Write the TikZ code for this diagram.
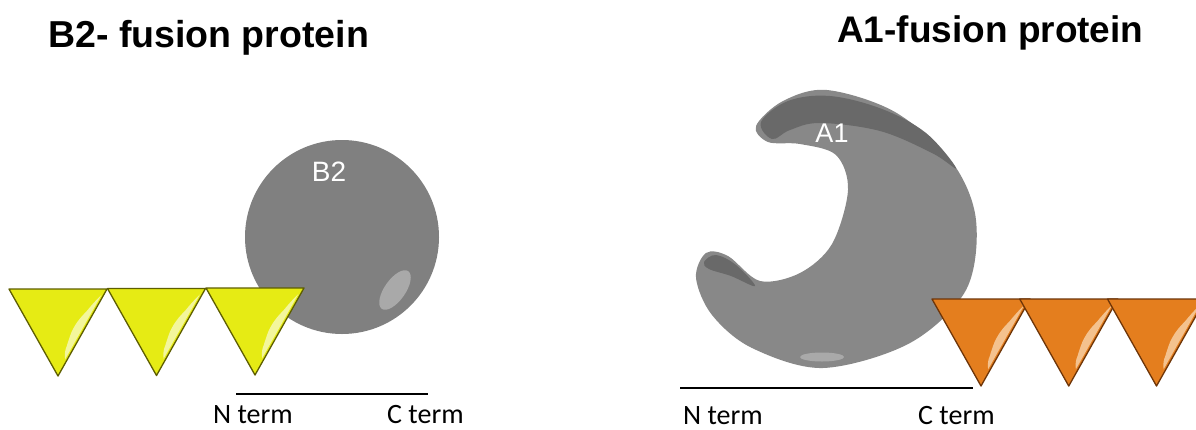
\documentclass[tikz,border=0pt]{standalone}
\usepackage{fontspec}
\setmainfont{Liberation Sans}
\newfontfamily\termfont{Carlito}
\definecolor{yfill}{HTML}{E6EB14}
\definecolor{ydraw}{HTML}{5E5E00}
\definecolor{ylight}{HTML}{F3F69C}
\definecolor{ofill}{HTML}{E47E1E}
\definecolor{odraw}{HTML}{6E3508}
\definecolor{olight}{HTML}{F4C28E}
\definecolor{bgray}{HTML}{808080}
\definecolor{agray}{HTML}{888888}
\definecolor{adark}{HTML}{696969}
\definecolor{shine}{HTML}{A9A9A9}
\tikzset{
  heading/.style={font=\bfseries\fontsize{37.5}{40}\selectfont, inner sep=0pt, anchor=base west},
  termlabel/.style={font=\termfont\fontsize{28}{30}\selectfont, inner sep=0pt, anchor=base west},
  domainlabel/.style={font=\fontsize{28}{30}\selectfont, text=white, inner sep=0pt},
  axisline/.style={line width=2.8pt, black},
  % one glossy triangular tag; args: fill, outline, highlight
  pics/tag/.style n args={3}{code={
    \fill[#1] (0,0) -- (98,0) -- (49,87) -- cycle;
    \fill[#3] (92.4,6) -- (56.1,70.3) .. controls (55.5,65) and (56,61) .. (57.6,57.5)
      .. controls (60,50) and (62,43) .. (64.8,38.6)
      .. controls (69,31) and (73,27) .. (77.2,22.7)
      .. controls (82,17) and (86,12) .. cycle;
    \draw[#2, line width=1.3pt, line join=round] (0,0) -- (98,0) -- (49,87) -- cycle;
  }}
}
\begin{document}
\begin{tikzpicture}[x=1pt,y=-1pt]
\useasboundingbox[fill=white] (0,0) rectangle (1196,429);

% ---- B2 fusion protein ----
\node[heading] (titleB) at (48,47) {B2- fusion protein};
\fill[bgray] (342,237) circle (97);
\fill[shine, rotate around={55:(395,290)}] (395,290) ellipse (23 and 10.5);
\node[domainlabel] (labB) at (329,172) {B2};
\pic at (9,289) {tag={yfill}{ydraw}{ylight}};
\pic at (107.5,288.5) {tag={yfill}{ydraw}{ylight}};
\pic at (206,288) {tag={yfill}{ydraw}{ylight}};
\coordinate (bN) at (236,394);
\coordinate (bC) at (428,394);
\draw[axisline] (bN) -- (bC);
\node[termlabel] (bNl) at (213,423) {N term};
\node[termlabel] (bCl) at (387,423) {C term};

% ---- A1 fusion protein ----
\node[heading, font=\bfseries\fontsize{37}{40}\selectfont] (titleA) at (837,42) {A1-fusion protein};
\fill[agray] plot[smooth cycle, tension=0.55] coordinates {
  (756,126) (783,101) (827,90) (895,112) (952,162) (976,220) (966,290)
  (910,343) (823,368) (752,348) (712,315) (696,278) (706,253) (728,256)
  (760,281) (800,273) (832,244) (848,190) (836,155) (800,144) (768,142)};
\fill[adark] plot[smooth cycle, tension=0.6] coordinates {
  (761,122) (788,101) (830,96) (882,109) (926,133) (956,168)
  (932,153) (880,131) (820,123) (790,130) (772,139)};
\fill[adark] plot[smooth cycle, tension=0.6] coordinates {
  (704,262) (716,255) (736,265) (755,286) (731,276) (709,269)};
\fill[shine] (822,357) ellipse (22 and 4.5);
\node[domainlabel, font=\fontsize{27}{30}\selectfont] (labA) at (832,133) {A1};
\begin{scope}[shift={(932,299)}, xscale=0.9, yscale=0.86]
  \pic at (0,0) {tag={ofill}{odraw}{olight}};
  \pic at (97.5,0) {tag={ofill}{odraw}{olight}};
  \pic at (195,0) {tag={ofill}{odraw}{olight}};
\end{scope}
\coordinate (aN) at (680,388);
\coordinate (aC) at (973,388);
\draw[axisline] (aN) -- (aC);
\node[termlabel] (aNl) at (683,424) {N term};
\node[termlabel] (aCl) at (918,424) {C term};
\end{tikzpicture}
\end{document}
